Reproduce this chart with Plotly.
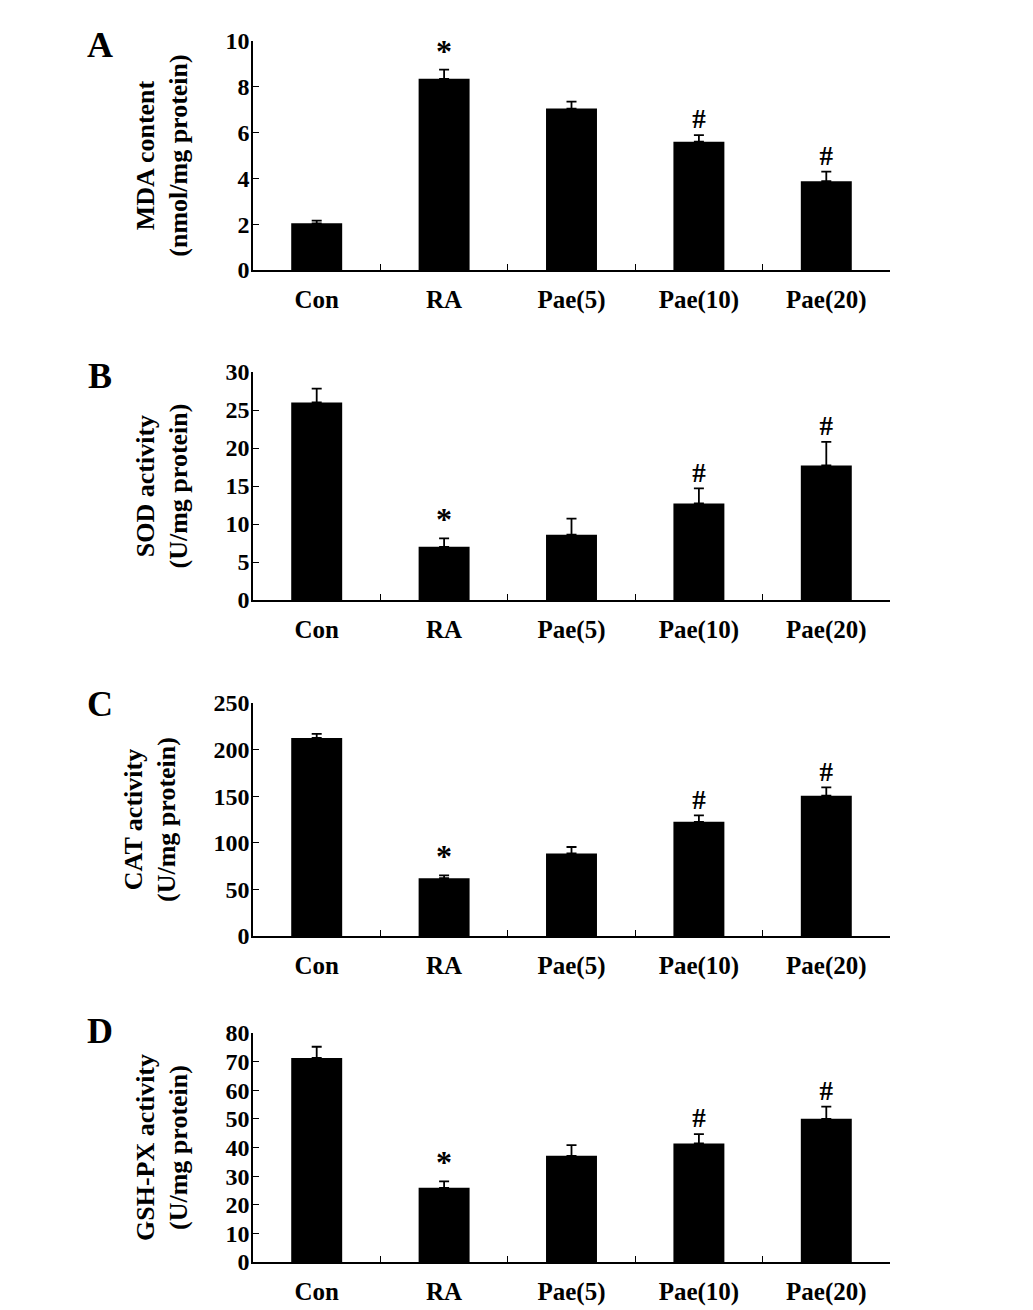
import plotly.graph_objects as go
from plotly.subplots import make_subplots

groups = ["Con", "RA", "Pae(5)", "Pae(10)", "Pae(20)"]

mda = [2.04, 8.35, 7.05, 5.60, 3.88]
mda_err = [0.12, 0.40, 0.30, 0.29, 0.42]

sod = [26.0, 7.0, 8.6, 12.7, 17.7]
sod_err = [1.8, 1.1, 2.1, 2.0, 3.1]

cat = [212.5, 62.0, 88.5, 122.5, 150.5]
cat_err = [4.3, 3.0, 7.0, 7.0, 9.0]

gsh = [71.3, 25.9, 37.1, 41.4, 50.0]
gsh_err = [3.9, 2.3, 3.7, 3.3, 4.3]

marks = ["", "*", "", "#", "#"]

panels = [
    ("A", "MDA content<br>(nmol/mg protein)", mda, mda_err, 10, 2),
    ("B", "SOD activity<br>(U/mg protein)", sod, sod_err, 30, 5),
    ("C", "CAT activity<br>(U/mg protein)", cat, cat_err, 250, 50),
    ("D", "GSH-PX activity<br>(U/mg protein)", gsh, gsh_err, 80, 10),
]

W, H = 1033, 1310
OFF = 8  # page body margin
# pixel boxes of each plot area (top, bottom)
boxes = [(41, 270), (372, 600), (703, 936), (1033, 1262)]
x_left, x_right = 253, 890
letter_y = [45, 376, 704, 1031]

FONT = "Times New Roman, Liberation Serif, serif"
mark_sizes = [32 if m == "*" else 27 for m in marks]

fig = make_subplots(rows=4, cols=1)

for i, (letter, title, vals, errs, ymax, dt) in enumerate(panels):
    r = i + 1
    fig.add_trace(go.Bar(x=groups, y=vals, marker_color="black", marker_line_width=0,
                         error_y=dict(type="data", symmetric=False, array=errs,
                                      arrayminus=[0] * len(errs), color="black",
                                      thickness=1.8, width=5),
                         showlegend=False), row=r, col=1)
    fig.add_trace(go.Scatter(x=groups, y=[v + e for v, e in zip(vals, errs)],
                             mode="text", text=marks, textposition="top center",
                             textfont=dict(family=FONT, size=mark_sizes, color="black",
                                           weight="bold"),
                             showlegend=False, hoverinfo="skip", cliponaxis=False),
                  row=r, col=1)
    top, bot = boxes[i]
    xa = "xaxis" if r == 1 else "xaxis%d" % r
    ya = "yaxis" if r == 1 else "yaxis%d" % r
    fig.layout[xa].update(domain=[(x_left - OFF) / W, (x_right - OFF) / W], showline=True,
                          linecolor="black", linewidth=1.5, ticks="inside", tickson="boundaries",
                          ticklen=6, tickcolor="black", tickwidth=1.2, showgrid=False,
                          automargin=False,
                          tickfont=dict(family=FONT, size=25, color="black", weight="bold"),
                          ticklabelstandoff=6)
    fig.layout[ya].update(domain=[1 - (bot - OFF) / H, 1 - (top - OFF) / H], range=[0, ymax],
                          dtick=dt, showline=True, linecolor="black", linewidth=1.5,
                          ticks="inside", ticklen=6, tickcolor="black", tickwidth=1.2,
                          showgrid=False, zeroline=False, automargin=False,
                          tickfont=dict(family=FONT, size=24, color="black", weight="bold"),
                          ticklabelstandoff=-3,
                          title=dict(text=title, standoff=30,
                                     font=dict(family=FONT, size=26, color="black", weight="bold")))
    fig.add_annotation(text=letter, xref="paper", yref="paper",
                       x=(100 - OFF) / W, y=1 - (letter_y[i] - OFF) / H,
                       showarrow=False, xanchor="center", yanchor="middle",
                       font=dict(family=FONT, size=36, color="black", weight="bold"))

fig.update_layout(width=W, height=H, margin=dict(l=0, r=0, t=0, b=0), bargap=0.6,
                  paper_bgcolor="white", plot_bgcolor="white")

fig.write_html("out.html")
